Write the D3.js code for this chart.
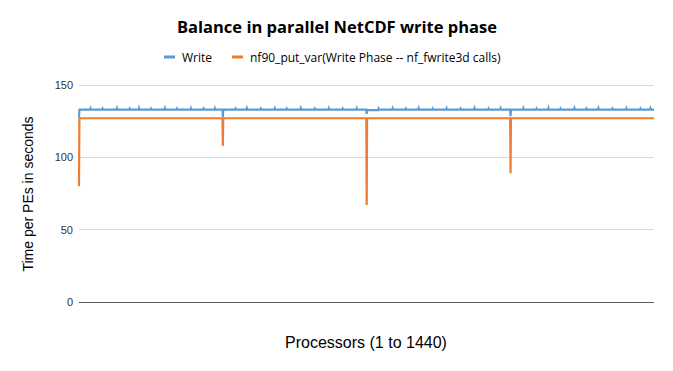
<!DOCTYPE html>
<html><head><meta charset="utf-8">
<script src="https://cdn.jsdelivr.net/npm/d3@7"></script>
<style>body{margin:0;background:#fff}</style>
</head><body>
<svg id="c" width="673" height="371"></svg>
<script>
const title = "Balance in parallel NetCDF write phase";
const seriesNames = ["Write", "nf90_put_var(Write Phase -- nf_fwrite3d calls)"];
const seriesColors = ["#5b9bd5", "#ed7d31"];
const yTicks = [0, 50, 100, 150];
const xLabel = "Processors (1 to 1440)";
const yLabel = "Time per PEs in seconds";

// Write series: [processor, seconds] — flat with small spikes, dips at node boundaries
const writePoints = [
  [1,127.5],[2,133],
  [29,133],[30,133.8],[31,133],[59,133],[60,133.6],[61,133],[95,133],[96,133.9],[97,133],
  [127,133],[128,133.6],[129,133],[150,133],[151,134],[152,133],[180,133],[181,133.6],[182,133],
  [215,133],[216,133.9],[217,133],[245,133],[246,133.6],[247,133],[280,133],[281,133.8],[282,133],
  [312,133],[313,133.6],[314,133],[340,133],[341,133.8],[342,133],[360,133],[361,128],[362,133],
  [392,133],[393,133.6],[394,133],[420,133],[421,133.9],[422,133],[455,133],[456,133.6],[457,133],
  [490,133],[491,133.8],[492,133],[520,133],[521,133.6],[522,133],[555,133],[556,133.9],[557,133],
  [590,133],[591,133.6],[592,133],[625,133],[626,133.8],[627,133],[660,133],[661,133.6],[662,133],
  [695,133],[696,133.8],[697,133],[720,133],[721,130],[722,132.6],
  [750,132.6],[751,133.6],[752,133],[785,133],[786,133.8],[787,133],[818,133],[819,133.6],[820,133],
  [850,133],[851,133.9],[852,133],[885,133],[886,133.6],[887,133],[920,133],[921,133.8],[922,133],
  [955,133],[956,133.6],[957,133],[990,133],[991,133.9],[992,133],[1025,133],[1026,133.6],[1027,133],
  [1055,133],[1056,133.8],[1057,133],[1080,133],[1081,128.5],[1082,133],
  [1112,133],[1113,133.8],[1114,133],[1145,133],[1146,133.6],[1147,133],[1175,133],[1176,134],[1177,133],
  [1205,133],[1206,133.6],[1207,133],[1240,133],[1241,133.9],[1242,133],[1270,133],[1271,133.6],[1272,133],
  [1300,133],[1301,133.9],[1302,133],[1335,133],[1336,133.6],[1337,133],[1370,133],[1371,133.8],[1372,133],
  [1405,133],[1406,133.6],[1407,133],[1430,133],[1431,133.8],[1432,133],[1440,133]
];

// nf90_put_var series: [processor, seconds]
const putPoints = [[1,80],[2,127],[360,127],[361,108],[362,127],[720,127],[721,67],[722,127],[1080,127],[1081,89],[1082,127],[1440,127]];

const svg = d3.select("#c");
const x = d3.scaleLinear().domain([1,1440]).range([79,654]);
const y = d3.scaleLinear().domain([0,150]).range([302,85]);

// gridlines
svg.append("g").selectAll("line").data(yTicks).join("line")
  .attr("x1",79).attr("x2",654).attr("y1",d=>y(d)).attr("y2",d=>y(d))
  .attr("stroke",d=>d===0?"#595959":"#d9d9d9").attr("stroke-width",1).attr("shape-rendering","crispEdges");

// y axis labels
const yAxis = d3.axisLeft(y).tickValues(yTicks).tickSize(0).tickPadding(6);
const ga = svg.append("g").attr("transform","translate(79,0)").call(yAxis);
ga.select(".domain").remove();
ga.selectAll("text").attr("font-family","Liberation Sans, Arial, sans-serif").attr("font-size","11px").attr("fill","#333");

const line = d3.line().x(d=>x(d[0])).y(d=>y(d[1]));
svg.append("path").attr("d",line(putPoints)).attr("fill","none").attr("stroke",seriesColors[1]).attr("stroke-width",2.2);
svg.append("path").attr("d",line(writePoints)).attr("fill","none").attr("stroke",seriesColors[0]).attr("stroke-width",2.2);

// title
svg.append("text").attr("x",337).attr("y",33).attr("text-anchor","middle")
  .attr("font-family","Open Sans, sans-serif").attr("font-weight","bold").attr("font-size","16.5px").attr("fill","#000").text(title);

// legend
const lg = [{x:164,tx:182},{x:232,tx:250}];
seriesNames.forEach((n,i)=>{
  svg.append("line").attr("x1",lg[i].x).attr("x2",lg[i].x+11).attr("y1",57).attr("y2",57)
    .attr("stroke",seriesColors[i]).attr("stroke-width",3);
  svg.append("text").attr("x",lg[i].tx).attr("y",61.5).attr("font-family","Open Sans, sans-serif")
    .attr("font-size","12px").attr("fill","#000").text(n);
});

// axis titles
svg.append("text").attr("x",366).attr("y",348).attr("text-anchor","middle")
  .attr("font-family","Liberation Sans, Arial, sans-serif").attr("font-size","16px").attr("fill","#000").text(xLabel);
svg.append("text").attr("transform","translate(33,194) rotate(-90)").attr("text-anchor","middle")
  .attr("font-family","Liberation Sans, Arial, sans-serif").attr("font-size","14px").attr("fill","#000").text(yLabel);
</script>
</body></html>
